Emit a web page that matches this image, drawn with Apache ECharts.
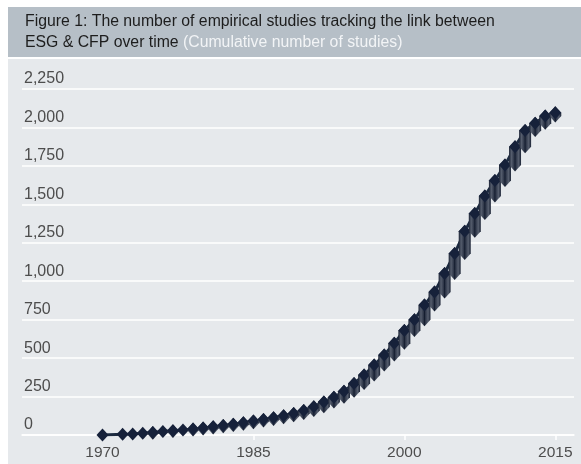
<!DOCTYPE html>
<html>
<head>
<meta charset="utf-8">
<script src="https://cdn.jsdelivr.net/npm/echarts@6/dist/echarts.min.js"></script>
<style>
html,body{margin:0;padding:0;background:#fff;}
#c{width:581px;height:464px;}
</style>
</head>
<body>
<div id="c"></div>
<script>
var years = [1970,1972,1973,1974,1975,1976,1977,1978,1979,1980,1981,1982,1983,1984,1985,1986,1987,1988,1989,1990,1991,1992,1993,1994,1995,1996,1997,1998,1999,2000,2001,2002,2003,2004,2005,2006,2007,2008,2009,2010,2011,2012,2013,2014,2015];
var studies = [0,5,7,11,17,22,28,33,39,46,53,61,70,80,91,100,112,125,140,160,184,215,246,285,335,390,455,520,597,680,750,845,930,1050,1180,1325,1440,1555,1655,1755,1875,1980,2027,2075,2095];
var yTicks = [0,250,500,750,1000,1250,1500,1750,2000,2250];
var xTickYears = [1970,1985,2000,2015];
var titleLine1 = 'Figure 1: The number of empirical studies tracking the link between';
var titleLine2 = 'ESG & CFP over time ';
var titleNote = '(Cumulative number of studies)';

var lineData = years.map(function(y,i){return [y, studies[i]];});
var colData = years.map(function(y,i){return [y, studies[i], i>0 ? studies[i-1] : studies[i]];});

var FONT = 'Liberation Sans, Arial, sans-serif';
var chart = echarts.init(document.getElementById('c'), null, {renderer:'canvas'});
var sideGrad = new echarts.graphic.LinearGradient(0,0,1,0,[
  {offset:0,color:'#1a2234'},
  {offset:0.2,color:'#555d6d'},
  {offset:0.42,color:'#2e3648'},
  {offset:0.5,color:'#141d2f'},
  {offset:0.58,color:'#2e3648'},
  {offset:0.8,color:'#555d6d'},
  {offset:1,color:'#1a2234'}
]);
chart.setOption({
  animation:false,
  graphic:[
    {type:'rect', z:-10, silent:true, shape:{x:8,y:7,width:573,height:50}, style:{fill:'#b6bfc7'}},
    {type:'rect', z:-10, silent:true, shape:{x:8,y:59,width:573,height:405}, style:{fill:'#e6e9ec'}}
  ],
  title:{
    left:20, top:6,
    text:'{a|'+titleLine1+'}\n{a|'+titleLine2+'}{w|'+titleNote+'}',
    textStyle:{
      fontWeight:'normal',
      rich:{
        a:{fontFamily:FONT,fontWeight:'normal',fontSize:15.8,color:'#1d1d1d',lineHeight:21},
        w:{fontFamily:FONT,fontWeight:'normal',fontSize:15.8,color:'#f2f4f6',lineHeight:21}
      }
    }
  },
  grid:{left:22,right:7,top:89,bottom:29},
  xAxis:{
    type:'value', min:1962, max:2016.86,
    axisLine:{show:true,lineStyle:{color:'#ffffff',width:1.5}},
    axisTick:{show:true,customValues:xTickYears,length:5,lineStyle:{color:'#ffffff',width:1.5}},
    axisLabel:{customValues:xTickYears,margin:10,fontSize:15.5,color:'#4d4d4d',fontFamily:FONT,formatter:function(v){return String(v);}},
    splitLine:{show:false}
  },
  yAxis:{
    type:'value', min:0, max:2250, interval:250,
    axisLine:{show:false}, axisTick:{show:false},
    axisLabel:{inside:true,verticalAlign:'bottom',margin:2,padding:[0,0,2,0],fontSize:16,color:'#4d4d4d',fontFamily:FONT,
      formatter:function(v){return v.toLocaleString('en-US');}},
    splitLine:{show:true,lineStyle:{color:'#ffffff',width:1.5}}
  },
  series:[
    {type:'line', data:lineData, showSymbol:false, z:2, lineStyle:{color:'#1c2a40',width:3}},
    {type:'custom', data:colData, z:3,
      renderItem:function(params, api){
        var x = api.value(0), v = api.value(1), pv = api.value(2);
        var top = api.coord([x, v]);
        var bot = api.coord([x, pv]);
        var w = 12, h = 13;
        var children = [];
        if (bot[1] - top[1] > 0.8) {
          children.push({type:'polygon', shape:{points:[
            [top[0], top[1]-h/2],[top[0]+w/2, top[1]],[top[0]+w/2, bot[1]],
            [top[0], bot[1]+h/2],[top[0]-w/2, bot[1]],[top[0]-w/2, top[1]]
          ]}, style:{fill:sideGrad}});
        }
        children.push({type:'polygon', shape:{points:[
          [top[0], top[1]-h/2],[top[0]+w/2, top[1]],[top[0], top[1]+h/2],[top[0]-w/2, top[1]]
        ]}, style:{fill:'#16213a'}});
        return {type:'group', children:children};
      }
    }
  ]
});
</script>
</body>
</html>
